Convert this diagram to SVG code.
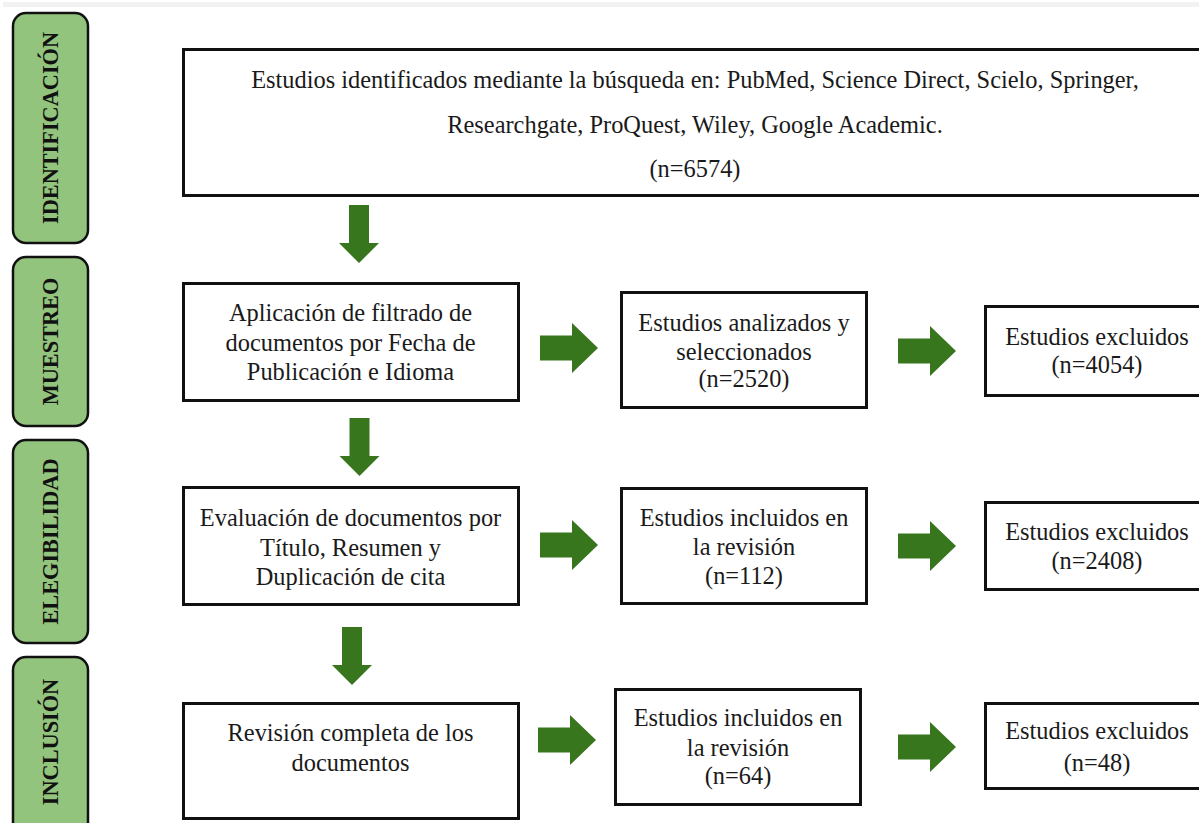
<svg xmlns="http://www.w3.org/2000/svg" width="1199" height="823" viewBox="0 0 1199 823">
<defs>
<style>
.phase{fill:#93c47d;stroke:#111;stroke-width:2.5}
.ptxt{font-family:"Liberation Serif","Times New Roman",serif;font-weight:bold;font-size:22.3px;fill:#111;text-anchor:middle}
.box{fill:#fff;stroke:#111;stroke-width:3}
.txt{font-family:"Liberation Serif","Times New Roman",serif;font-size:24.4px;fill:#1a1a1a;text-anchor:middle}
.arr{fill:#38761d}
</style>
<path id="ar" d="M0,-12.5 H32 V-25 L58,0 L32,25 V12.5 H0 Z"/>
<path id="ad" d="M-10,0 H10 V38 H20 L0,58 L-20,38 H-10 Z"/>
</defs>
<rect x="3" y="2" width="1196" height="5" fill="#f2f2f2"/>

<g id="phase-identificacion">
<rect class="phase" x="13" y="13" width="75" height="230" rx="13"/>
<text class="ptxt" transform="translate(57.5,128) rotate(-90)">IDENTIFICACIÓN</text>
</g>
<g id="phase-muestreo">
<rect class="phase" x="13" y="257" width="75" height="169" rx="13"/>
<text class="ptxt" transform="translate(57.5,341.5) rotate(-90)">MUESTREO</text>
</g>
<g id="phase-elegibilidad">
<rect class="phase" x="13" y="440" width="75" height="203" rx="13"/>
<text class="ptxt" transform="translate(57.5,541.5) rotate(-90)">ELEGIBILIDAD</text>
</g>
<g id="phase-inclusion">
<rect class="phase" x="13" y="657" width="75" height="180" rx="13"/>
<text class="ptxt" transform="translate(57.5,742) rotate(-90)">INCLUSIÓN</text>
</g>

<g id="n-identificados">
<rect class="box" x="183.5" y="49.5" width="1030" height="146"/>
<text class="txt" x="695" y="88">Estudios identificados mediante la búsqueda en: PubMed, Science Direct, Scielo, Springer,</text>
<text class="txt" x="695" y="133">Researchgate, ProQuest, Wiley, Google Academic.</text>
<text class="txt" x="695" y="177">(n=6574)</text>
</g>

<g id="n-filtrado">
<rect class="box" x="183.5" y="283.5" width="335" height="117"/>
<text class="txt" x="350.5" y="321">Aplicación de filtrado de</text>
<text class="txt" x="350.5" y="351">documentos por Fecha de</text>
<text class="txt" x="350.5" y="380">Publicación e Idioma</text>
</g>
<g id="n-analizados">
<rect class="box" x="621.5" y="292.5" width="245" height="115"/>
<text class="txt" x="744" y="331">Estudios analizados y</text>
<text class="txt" x="744" y="360">seleccionados</text>
<text class="txt" x="744" y="387">(n=2520)</text>
</g>
<g id="n-excluidos1">
<rect class="box" x="985.5" y="306.5" width="230" height="89"/>
<text class="txt" x="1097" y="345">Estudios excluidos</text>
<text class="txt" x="1097" y="373">(n=4054)</text>
</g>

<g id="n-evaluacion">
<rect class="box" x="183.5" y="487.5" width="335" height="117"/>
<text class="txt" x="350.5" y="526">Evaluación de documentos por</text>
<text class="txt" x="350.5" y="556">Título, Resumen y</text>
<text class="txt" x="350.5" y="585">Duplicación de cita</text>
</g>
<g id="n-incluidos1">
<rect class="box" x="621.5" y="488.5" width="245" height="115"/>
<text class="txt" x="744" y="526">Estudios incluidos en</text>
<text class="txt" x="744" y="555">la revisión</text>
<text class="txt" x="744" y="584">(n=112)</text>
</g>
<g id="n-excluidos2">
<rect class="box" x="985.5" y="502.5" width="230" height="87"/>
<text class="txt" x="1097" y="540">Estudios excluidos</text>
<text class="txt" x="1097" y="569">(n=2408)</text>
</g>

<g id="n-revision">
<rect class="box" x="183.5" y="703.5" width="335" height="115"/>
<text class="txt" x="350.5" y="741">Revisión completa de los</text>
<text class="txt" x="350.5" y="771">documentos</text>
</g>
<g id="n-incluidos2">
<rect class="box" x="615.5" y="689.5" width="245" height="115"/>
<text class="txt" x="738" y="726">Estudios incluidos en</text>
<text class="txt" x="738" y="756">la revisión</text>
<text class="txt" x="738" y="784">(n=64)</text>
</g>
<g id="n-excluidos3">
<rect class="box" x="985.5" y="703.5" width="230" height="85"/>
<text class="txt" x="1097" y="739">Estudios excluidos</text>
<text class="txt" x="1097" y="771">(n=48)</text>
</g>

<g id="connectors" class="arr">
<use href="#ad" transform="translate(359,205)"/>
<use href="#ad" transform="translate(359.5,418)"/>
<use href="#ad" transform="translate(352,627)"/>
<use href="#ar" transform="translate(540,348)"/>
<use href="#ar" transform="translate(898,351)"/>
<use href="#ar" transform="translate(540,545)"/>
<use href="#ar" transform="translate(898,546)"/>
<use href="#ar" transform="translate(538,740)"/>
<use href="#ar" transform="translate(898,747)"/>
</g>
</svg>
